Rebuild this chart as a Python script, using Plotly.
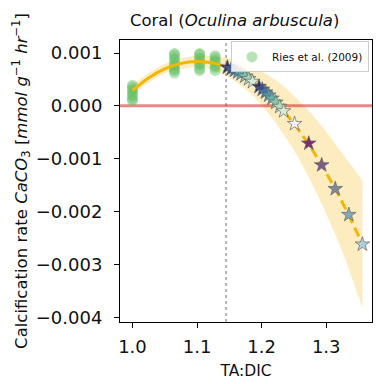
import plotly.graph_objects as go

# ---- Ries et al. (2009) calcification measurements ----
RIES_X = [1.0] * 8 + [1.065] * 9 + [1.104] * 8 + [1.128] * 7
RIES_Y = [
    0.00010, 0.00013, 0.00019, 0.00022, 0.00027, 0.00031, 0.00035, 0.00039,
    0.00062, 0.00067, 0.00070, 0.00076, 0.00080, 0.00087, 0.00090, 0.00096, 0.00099,
    0.00067, 0.00071, 0.00078, 0.00081, 0.00088, 0.00091, 0.00097, 0.00099,
    0.00067, 0.00073, 0.00076, 0.00083, 0.00086, 0.00091, 0.00095,
]

# ---- quadratic fit and its uncertainty band ----
FIT_X = [1.0, 1.025, 1.05, 1.075, 1.1, 1.125, 1.145, 1.175, 1.2, 1.225,
         1.25, 1.275, 1.3, 1.325, 1.35, 1.356]
FIT_Y = [0.000290, 0.000528, 0.000699, 0.000803, 0.00084, 0.000810, 0.000739,
         0.000551, 0.000322, 0.000025, -0.000338, -0.000768, -0.001265,
         -0.001828, -0.002458, -0.002619]
BAND_UPPER = [0.00039, 0.00062, 0.00079, 0.00090, 0.00095, 0.00094, 0.00091,
              0.00080, 0.00065, 0.00046, 0.00019, -0.00012, -0.00049,
              -0.00090, -0.00131, -0.00142]
BAND_LOWER = [0.00019, 0.00044, 0.00061, 0.00070, 0.00073, 0.00068, 0.00057,
              0.00032, 0.00002, -0.00038, -0.00084, -0.00140, -0.00204,
              -0.00276, -0.00361, -0.00382]

# present-day TA:DIC (end of observed range)
TA_DIC_NOW = 1.145

# ---- projected scenarios (stars) ----
PROJ_X = [1.147, 1.153, 1.158, 1.163, 1.168, 1.174, 1.180, 1.186,
          1.196, 1.201, 1.206, 1.211, 1.216, 1.222, 1.228, 1.234,
          1.251, 1.273, 1.293, 1.314, 1.335, 1.356]
PROJ_Y = [0.000729, 0.000698, 0.000670, 0.000638, 0.000604, 0.000560, 0.000511, 0.000459,
          0.000363, 0.000311, 0.000257, 0.000199, 0.000139, 0.000064, -0.000015, -0.000098,
          -0.000340, -0.000710, -0.001120, -0.001570, -0.002060, -0.002620]
PROJ_COLORS = ['#2b2f6e', '#34508f', '#3a6ea5', '#4a8fb0', '#5aa9b0', '#7cc3b0', '#a8d8b8', '#d4ecd4',
               '#2b2f6e', '#34508f', '#3e78a8', '#4c98b0', '#64b3ad', '#88c9b0', '#b2dcc0', '#d4ecd4',
               '#f4f4f4', '#7c2d6b', '#7d5a8a', '#7e8a96', '#85a8b5', '#b0d0e2']

X_RANGE = [0.9807, 1.3709]
Y_RANGE = [-0.00409, 0.001246]
X_TICKS = [1.0, 1.1, 1.2, 1.3]
Y_TICKS = [0.001, 0.0, -0.001, -0.002, -0.003, -0.004]

FIT_COLOR = '#f2b705'
FONT = 'DejaVu Sans'
TEXT = '#111111'

fig = go.Figure()

# uncertainty band
fig.add_trace(go.Scatter(x=FIT_X, y=BAND_UPPER, mode='lines', line=dict(width=0, shape='spline'),
                         showlegend=False, hoverinfo='skip'))
fig.add_trace(go.Scatter(x=FIT_X, y=BAND_LOWER, mode='lines', line=dict(width=0, shape='spline'),
                         fill='tonexty', fillcolor='rgba(245,185,30,0.28)',
                         showlegend=False, hoverinfo='skip'))

# zero calcification line
fig.add_trace(go.Scatter(x=X_RANGE, y=[0, 0], mode='lines',
                         line=dict(color='rgba(214,39,40,0.55)', width=3),
                         showlegend=False, hoverinfo='skip'))

# observations
fig.add_trace(go.Scatter(x=RIES_X, y=RIES_Y, mode='markers', name='Ries et al. (2009)',
                         marker=dict(size=11, color='rgba(100,190,100,0.45)', line=dict(width=0))))

# fit: solid within observed range, dashed beyond it
solid = [(x, y) for x, y in zip(FIT_X, FIT_Y) if x <= TA_DIC_NOW]
dashed = [(x, y) for x, y in zip(FIT_X, FIT_Y) if x >= TA_DIC_NOW]
fig.add_trace(go.Scatter(x=[p[0] for p in solid], y=[p[1] for p in solid], mode='lines',
                         line=dict(color=FIT_COLOR, width=3, shape='spline'),
                         showlegend=False, hoverinfo='skip'))
fig.add_trace(go.Scatter(x=[p[0] for p in dashed], y=[p[1] for p in dashed], mode='lines',
                         line=dict(color=FIT_COLOR, width=3, shape='spline', dash='10px,5px'),
                         showlegend=False, hoverinfo='skip'))

# projected scenarios
fig.add_trace(go.Scatter(x=PROJ_X, y=PROJ_Y, mode='markers', showlegend=False,
                         marker=dict(symbol='star', size=11, color=PROJ_COLORS,
                                     line=dict(color='#666666', width=0.7))))

# present-day marker
fig.add_shape(type='line', xref='x', yref='paper', x0=TA_DIC_NOW, x1=TA_DIC_NOW, y0=0, y1=1,
              line=dict(color='#b5b5b5', width=2, dash='dot'), layer='below')

axis_common = dict(showline=True, linecolor='black', linewidth=1, mirror=True,
                   ticks='outside', ticklen=5, tickwidth=1, tickcolor='black',
                   showgrid=False, zeroline=False,
                   tickfont=dict(family=FONT, size=18, color=TEXT))

fig.update_xaxes(range=X_RANGE, tickvals=X_TICKS, tickformat='.1f', ticklabelstandoff=3,
                 title=dict(text='TA:DIC', font=dict(family=FONT, size=15.5, color=TEXT), standoff=9),
                 **axis_common)
fig.update_yaxes(range=Y_RANGE, tickvals=Y_TICKS, tickformat='.3f', ticklabelstandoff=8,
                 title=dict(text='Calcification rate <i>CaCO</i><sub>3</sub> [<i>mmol g</i><sup>−1</sup> <i>hr</i><sup>−1</sup>]',
                            font=dict(family=FONT, size=16.5, color=TEXT), standoff=4),
                 **axis_common)

fig.update_layout(
    width=376, height=384,
    margin=dict(l=120, r=4, t=40, b=62),
    paper_bgcolor='white', plot_bgcolor='white',
    title=dict(text='Coral (<i>Oculina arbuscula</i>)', x=0.455, xref='paper',
               y=1 - 20 / 384, yref='container', yanchor='middle', xanchor='center',
               font=dict(family=FONT, size=16.5, color=TEXT)),
    legend=dict(x=0.988, y=0.995, xanchor='right', yanchor='top',
                bgcolor='rgba(255,255,255,0.85)', bordercolor='#cccccc', borderwidth=1,
                font=dict(family=FONT, size=10.5, color=TEXT),
                itemwidth=30, tracegroupgap=0),
    showlegend=True,
)

fig.write_html('out.html')
